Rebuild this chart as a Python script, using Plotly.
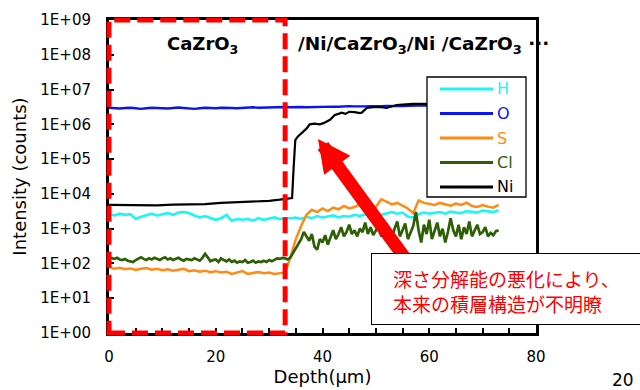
import plotly.graph_objects as go

# ---------------- data ----------------
depth = [0, 1, 2, 3, 4, 5, 6, 7, 8, 9, 10, 11, 12, 13, 14, 15, 16, 17, 18, 19,
         20, 21, 22, 23, 24, 25, 26, 27, 28, 29, 30, 31, 32, 33, 34, 35, 36, 37, 38, 39,
         40, 41, 42, 43, 44, 45, 46, 47, 48, 49, 50, 51, 52, 53, 54, 55, 56, 57, 58, 59,
         60, 61, 62, 63, 64, 65, 66, 67, 68, 69, 70, 71, 72, 73]

h_counts = [2600, 2400, 2700, 2500, 2600, 1900, 2200, 2500, 2700, 2400,
            2600, 2800, 2500, 2900, 3000, 2800, 2400, 2100, 2300, 2000,
            1800, 2000, 2500, 1700, 1900, 1800, 1900, 1700, 2000, 1800,
            1900, 2100, 1900, 2000, 2000, 2100, 1900, 2200, 2000, 2300,
            2100, 2200, 2400, 2100, 2300, 2200, 2500, 2300, 2600, 2400,
            2700, 2500, 2800, 3000, 2700, 2900, 2200, 2100, 2600, 2900,
            2700, 2800, 3000, 2700, 3100, 2900, 2800, 3200, 3000, 2900, 3300, 3100, 3000, 3400]

o_counts = [3.0e6, 2.9e6, 2.85e6, 2.95e6, 3.0e6, 2.9e6, 2.8e6, 2.9e6, 3.0e6, 2.95e6,
            2.9e6, 2.85e6, 2.95e6, 3.05e6, 2.95e6, 2.85e6, 2.8e6, 2.9e6, 3.0e6, 2.95e6,
            2.9e6, 3.0e6, 3.05e6, 2.95e6, 2.9e6, 2.95e6, 3.05e6, 3.1e6, 3.0e6, 3.05e6,
            3.1e6, 3.05e6, 3.1e6, 3.15e6, 3.1e6, 3.2e6, 3.15e6, 3.1e6, 3.15e6, 3.2e6,
            3.15e6, 3.2e6, 3.25e6, 3.2e6, 3.3e6, 3.35e6, 3.3e6, 3.25e6, 3.3e6, 3.35e6,
            3.3e6, 3.35e6, 3.4e6, 3.35e6, 3.3e6, 3.35e6, 3.4e6, 3.45e6, 3.4e6, 3.45e6,
            3.5e6, 3.45e6, 3.5e6, 3.55e6, 3.5e6, 3.45e6, 3.5e6, 3.55e6, 3.5e6, 3.45e6,
            3.5e6, 3.55e6, 3.5e6, 3.5e6]

s_counts = [80, 70, 75, 68, 72, 65, 70, 74, 66, 70,
            64, 68, 62, 66, 70, 60, 64, 58, 62, 56,
            60, 55, 58, 50, 56, 60, 50, 54, 57, 52,
            55, 50, 53, 55, 150, 500, 1200, 2500, 3500, 3000,
            3800, 3200, 4000, 3600, 4500, 3800, 4200, 5000, 4300, 4800,
            4200, 7000, 6000, 5000, 5500, 4500, 3800, 2800, 6500, 5500,
            5200, 4800, 5500, 5000, 4600, 5300, 4800, 5600, 4500, 4200,
            4800, 4300, 4000, 4800]

cl_depth = [0, 0.5, 1, 1.5, 2, 2.5, 3, 3.5, 4, 4.5, 5, 5.5, 6, 6.5, 7, 7.5, 8, 8.5, 9, 9.5,
            10, 10.5, 11, 11.5, 12, 12.5, 13, 13.5, 14, 14.5, 15, 15.5, 16, 16.5, 17, 17.5,
            18, 18.5, 19, 19.5, 20, 20.5, 21, 21.5, 22, 22.5, 23, 23.5, 24, 24.5, 25, 25.5,
            26, 26.5, 27, 27.5, 28, 28.5, 29, 29.5, 30, 30.5, 31, 31.5, 32, 32.5, 33, 33.5,
            34, 34.5, 35, 35.5, 36, 36.5, 37, 37.5, 38, 38.5, 39, 39.5, 40, 40.5, 41, 41.5,
            42, 42.5, 43, 43.5, 44, 44.5, 45, 45.5, 46, 46.5, 47, 47.5, 48, 48.5, 49, 49.5,
            50, 50.5, 51, 51.5, 52, 52.5, 53, 53.5, 54, 54.5, 55, 55.5, 56, 56.5, 57, 57.5,
            58, 58.5, 59, 59.5, 60, 60.5, 61, 61.5, 62, 62.5, 63, 63.5, 64, 64.5, 65, 65.5,
            66, 66.5, 67, 67.5, 68, 68.5, 69, 69.5, 70, 70.5, 71, 71.5, 72, 72.5, 73]

cl_counts = [150, 140, 135, 145, 130, 125, 135, 120, 115, 110,
             125, 140, 150, 135, 125, 140, 130, 145, 135, 125,
             140, 150, 130, 140, 125, 135, 145, 130, 120, 135,
             130, 125, 140, 130, 120, 145, 190, 150, 115, 125,
             130, 110, 140, 125, 115, 130, 110, 120, 105, 115,
             110, 125, 105, 110, 120, 105, 115, 110, 120, 110,
             125, 115, 130, 140, 135, 145, 140,
             130, 150, 200, 280, 350, 500, 800, 600, 450, 700,
             300, 250, 500, 400, 650, 350, 550, 900, 500, 700,
             1100, 600, 800, 1300, 700, 900, 600, 1000, 800, 1500,
             700, 1100, 650, 900, 1200, 600, 800, 1400, 700, 500,
             1000, 1600, 600, 900, 1400, 500, 800, 1200, 3000, 900,
             400, 1300, 700, 1800, 500, 900, 1500, 600, 1000, 400,
             800, 2000, 900, 600, 1300, 500, 1100, 700, 1600, 600,
             900, 1300, 700, 800, 1100, 600, 750, 650, 850, 900]

ni_depth = [0, 3, 6, 9, 12, 15, 18, 21, 24, 27,
            30, 32, 33, 34, 34.3, 34.6, 34.9, 35.4, 36.3, 37.0,
            37.6, 38.5, 39.5, 40.3, 41.4, 42.3, 43.0, 43.6, 44.3, 45.0,
            46.0, 47.0, 47.4, 48.3, 49.5, 50.7, 52.0, 53.0, 53.9, 55.0,
            57.0, 59.0, 61.0, 63.0, 65.0, 67.0, 69.0, 71.0, 73.0]
ni_counts = [4.8e3, 4.7e3, 4.8e3, 4.7e3, 4.9e3, 5.0e3, 5.1e3, 5.5e3, 5.7e3, 6.0e3,
             6.3e3, 6.8e3, 7.2e3, 7.5e3, 7.6e3, 6.0e4, 3.5e5, 4.5e5, 6.0e5, 7.5e5,
             1.0e6, 1.05e6, 1.0e6, 1.1e6, 1.35e6, 1.85e6, 2.0e6, 2.15e6, 2.0e6, 2.3e6,
             2.25e6, 2.1e6, 2.2e6, 2.95e6, 3.1e6, 3.15e6, 2.95e6, 3.2e6, 3.6e6, 3.7e6,
             3.9e6, 3.9e6, 3.85e6, 3.9e6, 3.95e6, 3.9e6, 3.85e6, 3.9e6, 3.9e6]

series_names = ["H", "O", "S", "Cl", "Ni"]
series_colors = ["#1EF5F5", "#0A14F0", "#FF8A14", "#2D5F05", "#000000"]

x_tick_vals = [0, 20, 40, 60, 80]
x_tick_text = ["0", "20", "40", "60", "80"]
y_tick_vals = [1, 10, 100, 1e3, 1e4, 1e5, 1e6, 1e7, 1e8, 1e9]
y_tick_text = ["1E+00", "1E+01", "1E+02", "1E+03", "1E+04",
               "1E+05", "1E+06", "1E+07", "1E+08", "1E+09"]

# ---------------- layout helpers ----------------
W, H = 640, 390
L, R, T, B = 109, 104, 20, 57
PW, PH = W - L - R, H - T - B


def px(x):
    return (x - L) / PW


def py(y):
    return (H - B - y) / PH


FONT = "DejaVu Sans"
JP = "Noto Sans CJK JP"

fig = go.Figure()
series = [(depth, h_counts), (depth, o_counts), (depth, s_counts),
          (cl_depth, cl_counts), (ni_depth, ni_counts)]
widths = [2.6, 2.3, 2.5, 2.7, 2.2]
for name, color, lw, (xs, ys) in zip(series_names, series_colors, widths, series):
    fig.add_trace(go.Scatter(x=xs, y=ys, mode="lines", name=name,
                             line=dict(color=color, width=lw),
                             showlegend=False))

fig.update_layout(
    width=W, height=H,
    margin=dict(l=L, r=R, t=T, b=B, autoexpand=False),
    plot_bgcolor="white", paper_bgcolor="white",
    showlegend=False,
    font=dict(family=FONT, color="black", size=15),
)
fig.update_xaxes(
    automargin=False,
    range=[0, 80], tickmode="array", tickvals=x_tick_vals, ticktext=x_tick_text,
    ticks="inside", ticklen=5, tickwidth=2, tickcolor="black",
    minor=dict(tickmode="linear", tick0=0, dtick=5, ticks="inside", ticklen=5,
               tickwidth=2, tickcolor="black"),
    showline=True, linecolor="black", linewidth=3, mirror=True,
    showgrid=False, zeroline=False, tickfont=dict(size=15),
    ticklabelstandoff=8,
    title=dict(text="Depth(μm)", font=dict(size=18), standoff=4),
)
fig.update_yaxes(
    automargin=False,
    type="log", range=[0, 9], tickmode="array", tickvals=y_tick_vals,
    ticktext=y_tick_text, ticks="inside", ticklen=5, tickwidth=2,
    tickcolor="black", showline=True, linecolor="black", linewidth=3,
    mirror=True, showgrid=False, zeroline=False, tickfont=dict(size=15),
    ticklabelstandoff=12,
    title=dict(text="Intensity (counts)", font=dict(size=18), standoff=10),
)

shapes = []
# red dashed box around the first CaZrO3 layer
shapes.append(dict(type="rect", xref="paper", yref="paper", x0=0, x1=33 / 80,
                   y0=0, y1=1, line=dict(color="#FF0000", width=5, dash="16px,7px"),
                   layer="above"))
# legend box
shapes.append(dict(type="rect", xref="paper", yref="paper", x0=px(427), x1=px(526),
                   y0=py(197), y1=py(77), fillcolor="white",
                   line=dict(color="black", width=1.3), layer="above"))
annotations = []
for i, (name, color) in enumerate(zip(series_names, series_colors)):
    yy = 89 + i * 24.5
    shapes.append(dict(type="line", xref="paper", yref="paper", x0=px(440), x1=px(493),
                       y0=py(yy), y1=py(yy), line=dict(color=color, width=3),
                       layer="above"))
    annotations.append(dict(xref="paper", yref="paper", x=px(495), y=py(yy),
                            xanchor="left", yanchor="middle", showarrow=False,
                            text=name, font=dict(size=16, color=color, family=FONT)))

# red arrow
annotations.append(dict(xref="paper", yref="paper", x=px(318), y=py(139),
                        ax=87, ay=119, text="", showarrow=True, arrowhead=2,
                        arrowsize=0.5, arrowwidth=13, arrowcolor="#FF0000",
                        standoff=0))
# white note box
annotations.append(dict(xref="paper", yref="paper", x=px(371), y=py(253),
                        xanchor="left", yanchor="top", showarrow=False, text=" ",
                        width=271, height=70, bgcolor="white", bordercolor="black",
                        borderwidth=1, borderpad=0))
annotations.append(dict(xref="paper", yref="paper", x=px(391), y=py(290.5),
                        xanchor="left", yanchor="middle", showarrow=False, align="left",
                        text="深さ分解能の悪化により、<br>本来の積層構造が不明瞭",
                        font=dict(family=JP, size=19, color="#FF0000")))
# layer labels
annotations.append(dict(xref="paper", yref="paper", x=px(202), y=py(45),
                        xanchor="center", yanchor="middle", showarrow=False,
                        text="<b>CaZrO<sub>3</sub></b>",
                        font=dict(family=FONT, size=18, color="black")))
annotations.append(dict(xref="paper", yref="paper", x=px(296), y=py(45),
                        xanchor="left", yanchor="middle", showarrow=False,
                        text="<b>/Ni/CaZrO<sub>3</sub>/Ni /CaZrO<sub>3</sub> ···</b>",
                        font=dict(family=FONT, size=18.5, color="black")))
# page number
annotations.append(dict(xref="paper", yref="paper", x=px(623), y=py(380),
                        xanchor="center", yanchor="middle", showarrow=False,
                        text="20", font=dict(family=FONT, size=17, color="black")))

fig.update_layout(shapes=shapes, annotations=annotations)
fig.write_html("out.html",
               config={"displayModeBar": False},
               post_script="document.body.style.margin='0px';"
                           "document.body.style.overflow='hidden';")
